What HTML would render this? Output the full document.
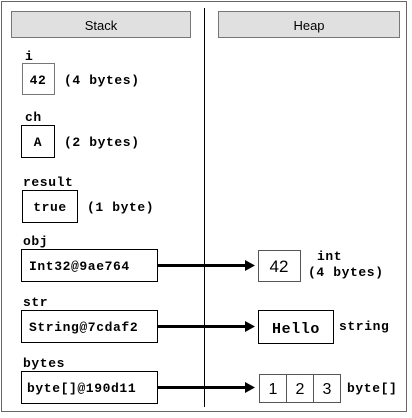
<!DOCTYPE html>
<html><head><meta charset="utf-8"><style>
html,body{margin:0;padding:0;background:#fff;width:412px;height:418px;overflow:hidden}
.m{font-family:"Liberation Mono",monospace;font-weight:bold;font-size:13px;letter-spacing:0.6px;fill:#000}
.s{font-family:"Liberation Sans",sans-serif;font-size:13px;fill:#000}
</style></head><body>
<svg width="412" height="418" viewBox="0 0 412 418" xmlns="http://www.w3.org/2000/svg">
<rect x="1.5" y="1.5" width="405" height="410" fill="#fff" stroke="#666" stroke-width="1"/>
<rect x="11.5" y="11.5" width="179" height="26" fill="#e0e0e0" stroke="#777"/>
<text x="101" y="30" class="s" text-anchor="middle">Stack</text>
<rect x="218.5" y="11.5" width="181" height="26" fill="#e0e0e0" stroke="#777"/>
<text x="309" y="30" class="s" text-anchor="middle">Heap</text>
<line x1="204.5" y1="8" x2="204.5" y2="407" stroke="#000"/>
<g fill="none" stroke="#000">
<rect x="22.5" y="63.5" width="32" height="31" stroke="#777"/>
<rect x="21.5" y="125.5" width="33" height="32"/>
<rect x="22.5" y="190.5" width="55" height="32"/>
<rect x="21.5" y="249.5" width="136" height="32"/>
<rect x="21.5" y="310.5" width="136" height="32"/>
<rect x="21.5" y="371.5" width="136" height="32"/>
<rect x="258.5" y="250.5" width="42" height="31" stroke="#555"/>
<rect x="258.5" y="310.5" width="75" height="33"/>
<rect x="259.5" y="374.5" width="81" height="28" stroke="#555"/>
<line x1="286.5" y1="374" x2="286.5" y2="403" stroke="#555"/>
<line x1="313.5" y1="374" x2="313.5" y2="403" stroke="#555"/>
</g>
<g stroke="#000" stroke-width="3">
<line x1="157" y1="265.5" x2="247" y2="265.5"/>
<line x1="157" y1="326.5" x2="247" y2="326.5"/>
<line x1="157" y1="387.5" x2="247" y2="387.5"/>
</g>
<g fill="#000">
<polygon points="245,260 255,265.5 245,271"/>
<polygon points="245,321 255,326.5 245,332"/>
<polygon points="245,382 255,387.5 245,393"/>
</g>
<text x="25" y="60" class="m">i</text>
<text x="38" y="84" class="m" text-anchor="middle">42</text>
<text x="64" y="84" class="m">(4 bytes)</text>
<text x="25" y="121" class="m">ch</text>
<text x="38" y="146" class="m" text-anchor="middle">A</text>
<text x="64" y="146" class="m">(2 bytes)</text>
<text x="23" y="186" class="m">result</text>
<text x="50" y="211" class="m" text-anchor="middle">true</text>
<text x="87" y="211" class="m">(1 byte)</text>
<text x="23" y="245" class="m">obj</text>
<text x="29" y="270" class="m">Int32@9ae764</text>
<text x="23" y="306" class="m">str</text>
<text x="29" y="331" class="m">String@7cdaf2</text>
<text x="23" y="367" class="m">bytes</text>
<text x="27" y="392" class="m">byte[]@190d11</text>
<text x="279" y="272" class="s" text-anchor="middle" style="font-size:17px">42</text>
<text x="317" y="260" class="m">int</text>
<text x="308" y="276" class="m">(4 bytes)</text>
<text x="296" y="333" class="m" text-anchor="middle" style="font-size:15px">Hello</text>
<text x="339" y="330" class="m">string</text>
<text x="273" y="394" class="s" text-anchor="middle" style="font-size:16px">1</text>
<text x="300" y="394" class="s" text-anchor="middle" style="font-size:16px">2</text>
<text x="327" y="394" class="s" text-anchor="middle" style="font-size:16px">3</text>
<text x="347" y="392" class="m">byte[]</text>
</svg>
</body></html>
